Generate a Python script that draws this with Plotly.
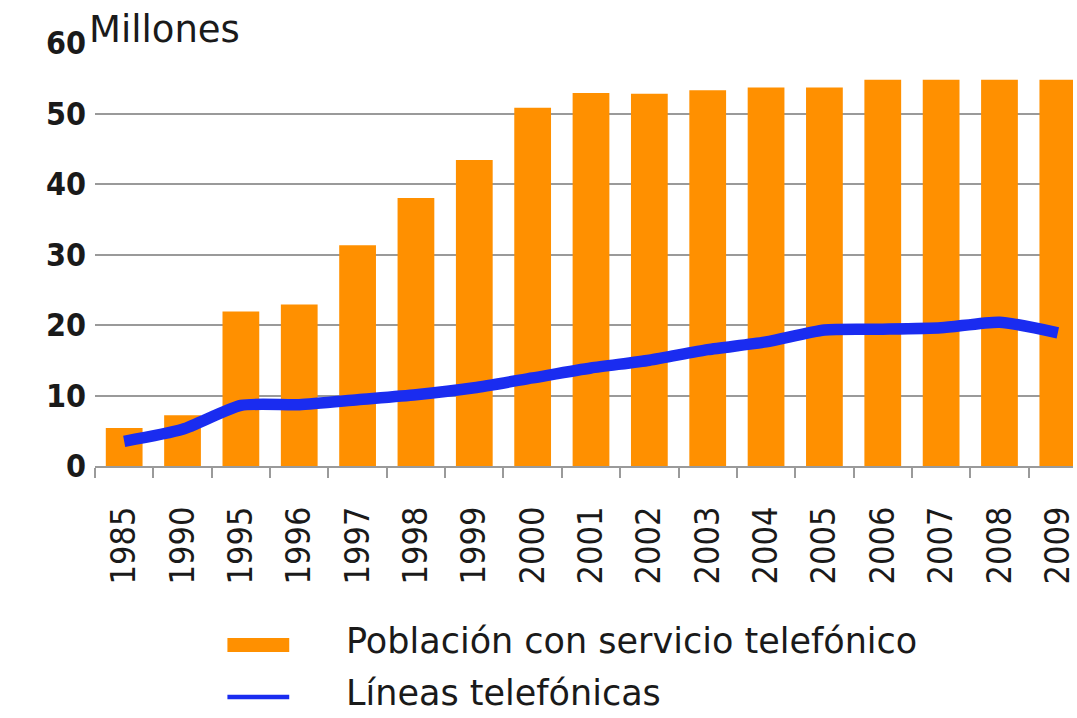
import plotly.graph_objects as go

# Años mostrados en el eje horizontal
years = ["1985", "1990", "1995", "1996", "1997", "1998", "1999", "2000", "2001",
         "2002", "2003", "2004", "2005", "2006", "2007", "2008", "2009"]

# Población con servicio telefónico (millones)
poblacion = [5.4, 7.2, 21.9, 22.9, 31.3, 38.0, 43.4, 50.8, 52.9,
             52.8, 53.3, 53.7, 53.7, 54.8, 54.8, 54.8, 54.8]

# Líneas telefónicas (millones)
lineas = [3.5, 5.2, 8.6, 8.7, 9.4, 10.1, 11.1, 12.5, 13.9,
          15.0, 16.5, 17.6, 19.3, 19.4, 19.6, 20.4, 18.9]

y_ticks = [0, 10, 20, 30, 40, 50, 60]

ORANGE = "#ff9000"
BLUE = "#1a2cf0"
GRID = "#9a9a9a"
TEXT = "#1a1a1a"
FONT_COND = "DejaVu Sans Condensed, DejaVu Sans, sans-serif"
FONT = "DejaVu Sans, sans-serif"

fig = go.Figure()

fig.add_trace(go.Bar(
    x=years, y=poblacion,
    marker=dict(color=ORANGE, line=dict(width=0)),
    name="Población con servicio telefónico",
    showlegend=False,
))

fig.add_trace(go.Scatter(
    x=years, y=lineas,
    mode="lines",
    line=dict(color=BLUE, width=11.5, shape="spline", smoothing=0.6),
    name="Líneas telefónicas",
    showlegend=False,
))

# Leyenda dibujada bajo el eje
fig.add_shape(type="rect", xref="paper", yref="paper",
              x0=0.1354, x1=0.1986, y0=-0.4397, y1=-0.4066,
              fillcolor=ORANGE, line=dict(width=0))
fig.add_shape(type="line", xref="paper", yref="paper",
              x0=0.1354, x1=0.1986, y0=-0.546, y1=-0.546,
              line=dict(color=BLUE, width=4.5))
fig.add_annotation(text="Población con servicio telefónico", xref="paper", yref="paper",
                   x=0.2546, y=-0.414, xanchor="left", yanchor="middle",
                   showarrow=False, font=dict(family=FONT, size=35, color=TEXT))
fig.add_annotation(text="Líneas telefónicas", xref="paper", yref="paper",
                   x=0.2546, y=-0.536, xanchor="left", yanchor="middle",
                   showarrow=False, font=dict(family=FONT, size=35, color=TEXT))

# Unidad del eje vertical
fig.add_annotation(text="Millones", xref="paper", yref="y",
                   x=0, y=60, xanchor="left", yanchor="bottom",
                   xshift=-7, yshift=-9, bgcolor="white", borderpad=0,
                   showarrow=False, font=dict(family=FONT, size=37, color=TEXT))

fig.update_layout(
    width=1077, height=718,
    margin=dict(l=95, r=0, t=43, b=252),
    plot_bgcolor="white", paper_bgcolor="white",
    bargap=0.37,
    font=dict(family=FONT_COND, color=TEXT),
)

fig.update_xaxes(
    type="category",
    range=[-0.5, 16.26],
    showgrid=False,
    showline=True, linecolor=GRID, linewidth=2,
    ticks="outside", tickson="boundaries", ticklen=10, tickcolor=GRID, tickwidth=2,
    tickangle=-90,
    tickfont=dict(family=FONT_COND, size=34, color=TEXT),
    ticklabelstandoff=25,
    zeroline=False,
)

fig.update_yaxes(
    range=[0, 60],
    tickvals=y_ticks,
    showgrid=True, gridcolor=GRID, gridwidth=2,
    showline=False, zeroline=False,
    ticks="",
    tickfont=dict(family=FONT_COND, size=32, color=TEXT, weight="bold"),
    ticklabelstandoff=8,
)

fig.write_html("out.html")
